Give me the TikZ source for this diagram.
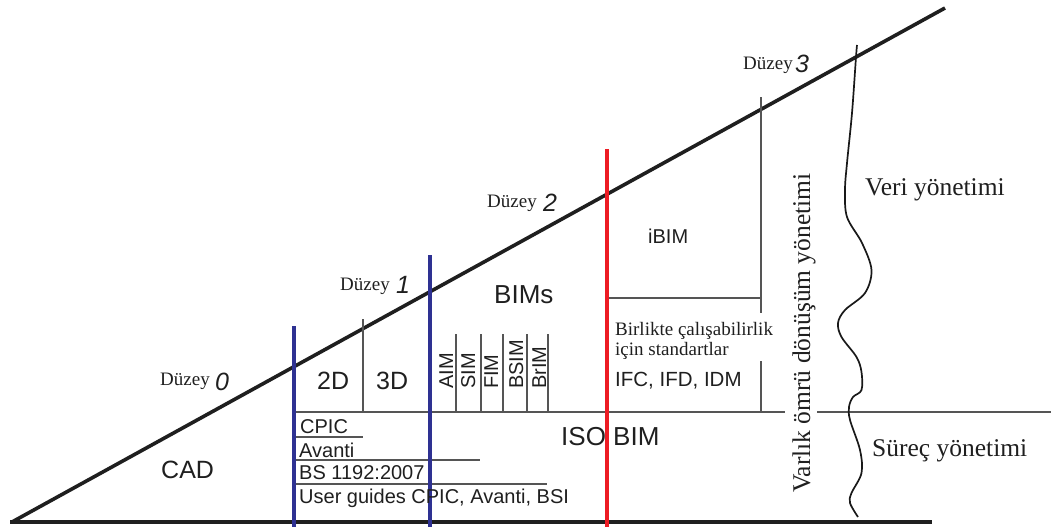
\documentclass[tikz,border=0pt]{standalone}
\usepackage{fontspec}
\setmainfont{Liberation Serif}
\newfontfamily\arialf{Liberation Sans}
\definecolor{myblue}{RGB}{46,49,146}
\definecolor{myred}{RGB}{237,28,36}
\definecolor{mygray}{RGB}{85,85,85}
\begin{document}
\begin{tikzpicture}[x=1pt,y=-1pt,
  blk/.style={line width=3.6pt, draw=black!88},
  blueline/.style={line width=4pt, draw=myblue},
  redline/.style={line width=4pt, draw=myred},
  gline/.style={line width=1.3pt, draw=mygray},
  wave/.style={line width=1.7pt, draw=black!90},
  sans/.style={font=\arialf\fontsize{#1}{#1}\selectfont, inner sep=0pt, text=black!88},
  serif/.style={font=\fontsize{#1}{#1}\selectfont, inner sep=0pt, text=black!88},
  digit/.style={font=\arialf\itshape\fontsize{25}{25}\selectfont, inner sep=0pt, text=black!88},
  vsans/.style={sans=20, rotate=90, anchor=base west}
]
\useasboundingbox (0,0) rectangle (1051,527);

% main triangle
\coordinate (dA) at (12,522);
\coordinate (dB) at (945,8);
\coordinate (bA) at (10,522);
\coordinate (bB) at (932,522);
\draw[blk] (dA) -- (dB);
\draw[blk] (bA) -- (bB);

% thin grey lines
\draw[gline] (296,412) -- (785,412);
\draw[gline] (817,412) -- (1051,412);
\draw[gline] (363,319) -- (363,412);
\foreach \x in {456,481,503,527,548} \draw[gline] (\x,334) -- (\x,412);
\draw[gline] (296,437) -- (363,437);
\draw[gline] (296,460) -- (480,460);
\draw[gline] (296,484) -- (547,484);
\draw[gline] (607,298) -- (761,298);
\draw[gline] (761,97) -- (761,313);
\draw[gline] (761,361) -- (761,412);

% coloured level lines
\draw[blueline] (294,326) -- (294,527);
\draw[blueline] (430,255) -- (430,527);
\draw[redline] (607,149) -- (607,527);

% wavy line
\draw[wave] plot[smooth, tension=0.55] coordinates {
 (857,45) (856,57) (852,113) (847,163) (845,190) (847,217) (862,243)
 (871.5,270) (865,293) (845,310) (838,323) (841.5,337) (856.5,357)
 (861.5,372) (861.5,390) (853,397) (849,407) (850,420) (860,450)
 (861.5,473) (851.5,493) (850,503) (858,517)};

% level labels
\node[serif=19, anchor=base west] (l0) at (160,385) {Düzey};
\node[digit, anchor=base west] (n0) at (215,390) {0};
\node[serif=19, anchor=base west] (l1) at (340,290) {Düzey};
\node[digit, anchor=base west] (n1) at (396,293) {1};
\node[serif=19, anchor=base west] (l2) at (487,207) {Düzey};
\node[digit, anchor=base west] (n2) at (543,211) {2};
\node[serif=19, anchor=base west] (l3) at (743,70) {Düzey};
\node[digit, anchor=base west] (n3) at (795,73) {3};

% sans labels
\node[sans=25, anchor=base west] (cad) at (161,478) {CAD};
\node[sans=25, anchor=base west] (d2) at (317,389) {2D};
\node[sans=25, anchor=base west] (d3) at (376,389) {3D};
\node[sans=26, anchor=base west] (bims) at (494,303) {BIMs};
\node[sans=26, anchor=base west] (iso) at (561,445) {ISO BIM};
\node[sans=20, anchor=base west] (ibim) at (648,243) {iBIM};
\node[sans=20.5, anchor=base west] (ifc) at (615,386) {IFC, IFD, IDM};

\node[sans=20, anchor=base west] (cpic) at (300,433) {CPIC};
\node[sans=20, anchor=base west] (avanti) at (299,457) {Avanti};
\node[sans=20, anchor=base west] (bs) at (299,479) {BS 1192:2007};
\node[sans=20, anchor=base west] (ug) at (299,503) {User guides CPIC, Avanti, BSI};

\node[vsans] (aim) at (453,389) {AIM};
\node[vsans] (sim) at (475,389) {SIM};
\node[vsans] (fim) at (498,389) {FIM};
\node[vsans] (bsim) at (523,389) {BSIM};
\node[vsans] (brim) at (546,389) {BrIM};

% serif labels
\node[serif=19, anchor=base west] (birl) at (615,335) {Birlikte çalışabilirlik};
\node[serif=19, anchor=base west] (icin) at (615,355) {için standartlar};
\node[serif=25.5, anchor=base west, rotate=90] (varlik) at (810,493) {Varlık ömrü dönüşüm yönetimi};
\node[serif=25.5, anchor=base west] (veri) at (865,195) {Veri yönetimi};
\node[serif=25.5, anchor=base west] (surec) at (872,456) {Süreç yönetimi};
\end{tikzpicture}
\end{document}
